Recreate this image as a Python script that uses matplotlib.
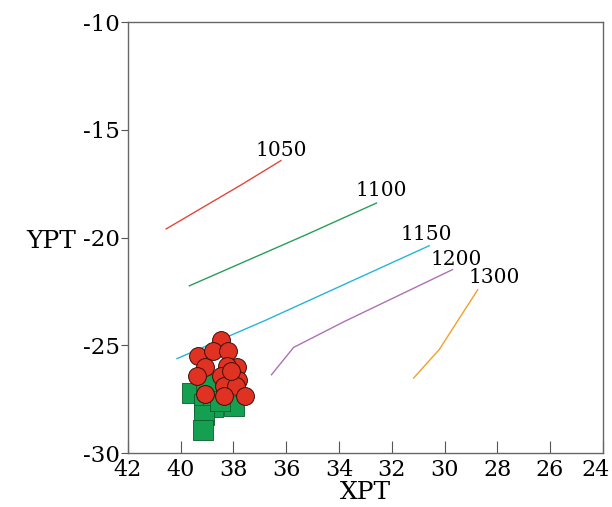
import matplotlib
matplotlib.use("Agg")
import matplotlib.pyplot as plt
import matplotlib.transforms as mtransforms

# ---------- isotherms ----------
iso_labels = ["1050", "1100", "1150", "1200", "1300"]
iso_x = [
    [40.55, 37.7, 36.2],
    [39.67, 35.3, 32.58],
    [40.14, 36.8, 30.58],
    [36.56, 35.72, 33.8, 29.7],
    [31.17, 30.2, 28.74],
]
iso_y = [
    [-19.6, -17.55, -16.43],
    [-22.24, -19.9, -18.4],
    [-25.62, -23.85, -20.38],
    [-26.37, -25.1, -23.9, -21.49],
    [-26.52, -25.2, -22.42],
]
iso_colors = ["#e0483c", "#2a9d5a", "#28b4d8", "#b070b4", "#f0a030"]
label_x = [36.2, 32.4, 30.7, 29.55, 28.1]
label_y = [-15.95, -17.8, -19.85, -21.0, -21.85]

# ---------- samples ----------
circ_x = [38.48, 39.33, 38.78, 38.19, 39.08, 39.4, 37.85, 38.26, 38.48,
          37.82, 38.34, 37.9, 39.08, 38.34, 37.57, 38.1]
circ_y = [-24.74, -25.51, -25.25, -25.25, -26.02, -26.44, -26.02, -25.98, -26.44,
          -26.6, -26.9, -26.9, -27.26, -27.37, -27.34, -26.2]
sq_x = [39.58, 39.05, 39.1, 38.78, 37.97, 39.12, 39.17, 38.5]
sq_y = [-27.22, -26.8, -27.72, -27.85, -27.8, -28.25, -28.92, -27.6]

plt.rcParams['font.family'] = ['DejaVu Serif']
plt.rcParams['axes.unicode_minus'] = False

fig = plt.figure(figsize=(6.12, 5.07), dpi=100)
ax = fig.add_axes([0.209, 0.1065, 0.776, 0.850])

for xs, ys, c in zip(iso_x, iso_y, iso_colors):
    ax.plot(xs, ys, color=c, lw=1.0)
for t, lx, ly in zip(iso_labels, label_x, label_y):
    ax.text(lx, ly, t, fontsize=14.5, ha="center", va="center")

ax.scatter(sq_x, sq_y, marker="s", s=200, color="#14a050", edgecolor="#0d5a2c",
           linewidth=0.6, zorder=3)
ax.scatter(circ_x, circ_y, marker="o", s=165, color="#e03222", edgecolor="#3a1008",
           linewidth=0.7, zorder=4)

ax.set_xlim(42, 24)
ax.set_ylim(-30, -10)
ax.set_xticks(range(42, 23, -2))
ax.set_yticks([-30, -25, -20, -15, -10])
ax.tick_params(axis="x", direction="in", length=9, width=0.8, labelsize=16, pad=4,
               color="#555555")
ax.tick_params(axis="y", direction="out", length=5, width=0.8, labelsize=16.5, pad=1,
               color="#555555")
for sp in ax.spines.values():
    sp.set_color("#666666")
    sp.set_linewidth(1.0)

# last x label sits a bit left so it stays inside the figure
last = ax.get_xticklabels()[-1]
last.set_transform(last.get_transform() +
                   mtransforms.ScaledTranslation(-7 / 100, 0, fig.dpi_scale_trans))

ax.set_xlabel("XPT", fontsize=18, labelpad=0)
ax.set_ylabel("YPT", fontsize=18, rotation=0, ha="right", va="center")
ax.yaxis.set_label_coords(-0.11, 0.49)

plt.savefig("out.png")
